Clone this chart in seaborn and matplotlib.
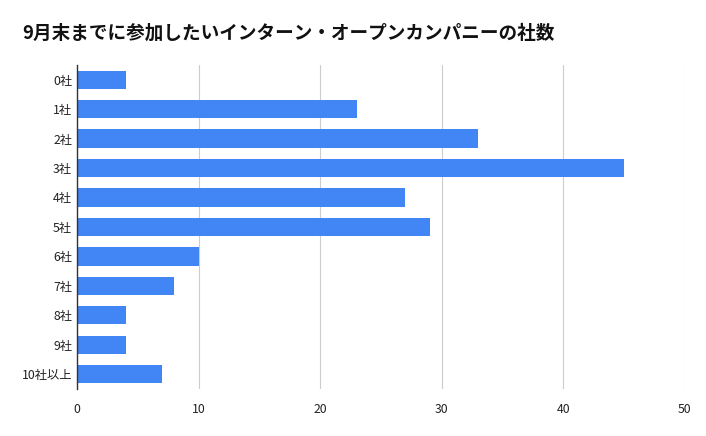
import pandas as pd
import seaborn as sns
import matplotlib.pyplot as plt

categories = ["0社", "1社", "2社", "3社", "4社", "5社", "6社", "7社", "8社", "9社", "10社以上"]
counts = [4, 23, 33, 45, 27, 29, 10, 8, 4, 4, 7]

df = pd.DataFrame({"category": categories, "count": counts})

sns.set_style("white")
plt.rcParams['font.family'] = ['Noto Sans CJK JP', 'DejaVu Sans']

fig = plt.figure(figsize=(7.06, 4.36), dpi=100)
ax = fig.add_axes([0.109, 0.108, 0.861, 0.743])

sns.barplot(data=df, x="count", y="category", color="#4285F4", width=0.62,
            saturation=1, linewidth=0, ax=ax, zorder=3)

ax.set_xlim(0, 50)
ax.set_xticks([0, 10, 20, 30, 40, 50])
ax.grid(axis="x", color="#cccccc", linewidth=0.8, zorder=0)
ax.set_xlabel("")
ax.set_ylabel("")
for s in ["top", "right", "bottom"]:
    ax.spines[s].set_visible(False)
ax.spines["left"].set_color("#333333")
ax.spines["left"].set_linewidth(1)
ax.spines["left"].set_zorder(4)
ax.tick_params(axis="both", length=0, labelsize=8.8, colors="#222222")
ax.tick_params(axis="x", pad=10)

fig.text(0.031, 0.925, "9月末までに参加したいインターン・オープンカンパニーの社数",
         fontsize=13.4, fontweight="bold", color="#111111", va="center")

fig.savefig("out.png", dpi=100)
